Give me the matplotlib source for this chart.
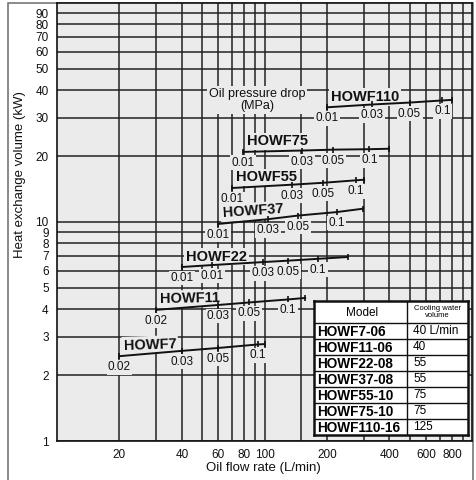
import matplotlib
matplotlib.use('Agg')
import matplotlib.pyplot as plt
from matplotlib.patches import Rectangle

plt.rcParams['font.family'] = ['Liberation Sans', 'DejaVu Sans']

# curve data: oil flow (L/min), heat exchange (kW), pressure drop labels
howf7_flow = [20, 40, 60, 93, 100]
howf7_heat = [2.44, 2.58, 2.66, 2.76, 2.77]
howf7_drop = ['0.02', '0.03', '0.05', '0.1', '']

howf11_flow = [30, 60, 84, 130, 157]
howf11_heat = [3.97, 4.18, 4.29, 4.43, 4.50]
howf11_drop = ['0.02', '0.03', '0.05', '0.1', '']

howf22_flow = [40, 56, 98, 130, 181, 252]
howf22_heat = [6.23, 6.36, 6.56, 6.66, 6.79, 6.92]
howf22_drop = ['0.01', '0.01', '0.03', '0.05', '0.1', '']

howf37_flow = [60, 104, 145, 223, 298]
howf37_heat = [9.8, 10.3, 10.7, 11.1, 11.5]
howf37_drop = ['0.01', '0.03', '0.05', '0.1', '']

howf55_flow = [70, 135, 191, 276, 302]
howf55_heat = [14.3, 14.8, 15.1, 15.5, 15.6]
howf55_drop = ['0.01', '0.03', '0.05', '0.1', '']

howf75_flow = [79, 151, 215, 320, 398]
howf75_heat = [20.9, 21.2, 21.4, 21.5, 21.6]
howf75_drop = ['0.01', '0.03', '0.05', '0.1', '']

howf110_flow = [200, 330, 500, 720, 800]
howf110_heat = [33.4, 34.4, 35.1, 35.9, 36.1]
howf110_drop = ['0.01', '0.03', '0.05', '0.1', '']

curves = [
    ('HOWF7', howf7_flow, howf7_heat, howf7_drop, 2),
    ('HOWF11', howf11_flow, howf11_heat, howf11_drop, 1),
    ('HOWF22', howf22_flow, howf22_heat, howf22_drop, 0),
    ('HOWF37', howf37_flow, howf37_heat, howf37_drop, 4),
    ('HOWF55', howf55_flow, howf55_heat, howf55_drop, 0),
    ('HOWF75', howf75_flow, howf75_heat, howf75_drop, 0),
    ('HOWF110', howf110_flow, howf110_heat, howf110_drop, 0),
]

x_labeled = [20, 40, 60, 80, 100, 200, 400, 600, 800]
x_grid_extra = [30, 50, 70, 90, 150, 300, 500, 700, 900]
y_labeled = [1, 2, 3, 4, 5, 6, 7, 8, 9, 10, 20, 30, 40, 50, 60, 70, 80, 90]

table_models = ['HOWF7-06', 'HOWF11-06', 'HOWF22-08', 'HOWF37-08',
                'HOWF55-10', 'HOWF75-10', 'HOWF110-16']
table_water = ['40 L/min', '40', '55', '55', '75', '75', '125']

BG = '#ebebeb'
GRID = '#222222'
W, H = 476, 480

fig = plt.figure(figsize=(W / 100, H / 100), dpi=100)
ax = fig.add_axes([57 / W, 39 / H, 415 / W, 438 / H])
ax.set_facecolor(BG)
ax.set_xscale('log')
ax.set_yscale('log')
ax.set_xlim(10, 1000)
ax.set_ylim(1, 100)

ax.set_xticks(x_labeled)
ax.set_xticklabels([str(v) for v in x_labeled])
ax.set_xticks(x_grid_extra, minor=True)
ax.set_xticklabels([], minor=True)
ax.set_yticks(y_labeled)
ax.set_yticklabels([str(v) for v in y_labeled])
ax.set_yticks([], minor=True)
ax.tick_params(which='both', length=0, labelsize=8.5, colors='#111')
ax.tick_params(axis='y', pad=6)
ax.tick_params(axis='x', pad=6)
ax.grid(which='both', color=GRID, lw=1.1)
ax.set_axisbelow(True)
for s in ax.spines.values():
    s.set_color('#111')
    s.set_linewidth(1.2)

box = dict(boxstyle='square,pad=0.12', fc=BG, ec='none')

for name, flow, heat, drop, rot in curves:
    ax.plot(flow, heat, color='#111', lw=1.4, zorder=4)
    ax.plot(flow, heat, ls='none', marker='|', ms=5, mew=1.2,
            color='#111', zorder=4)
    for f, h, lab in zip(flow, heat, drop):
        if lab:
            ax.annotate(lab, (f, h), xytext=(0, -11),
                        textcoords='offset pixels', ha='center',
                        va='center', fontsize=8.5, color='#111',
                        bbox=box, zorder=3)
    ax.annotate(name, (flow[0], heat[0]), xytext=(4, 10.5),
                textcoords='offset pixels', ha='left', va='center',
                fontsize=10.5, fontweight='bold', color='#111',
                rotation=rot, rotation_mode='anchor', bbox=box, zorder=3)

fig.text(257 / W, 1 - 100 / H, 'Oil pressure drop\n(MPa)', ha='center',
         va='center', fontsize=9, color='#111', linespacing=1.1,
         bbox=dict(boxstyle='square,pad=0.15', fc=BG, ec='none'))

# model table
tx = fig.add_axes([314 / W, 45 / H, 154 / W, 134 / H])
tx.set_xlim(0, 154)
tx.set_ylim(134, 0)
tx.set_facecolor('white')
tx.set_xticks([])
tx.set_yticks([])
for s in tx.spines.values():
    s.set_linewidth(1.8)
    s.set_color('#111')
tx.axvline(93, color='#111', lw=1)
tx.axhline(22, color='#111', lw=1)
for i in range(1, len(table_models)):
    tx.axhline(22 + 16 * i, color='#111', lw=1)
tx.text(48, 12, 'Model', ha='center', va='center', fontsize=8.5)
tx.text(123, 11, 'Cooling water\nvolume', ha='center', va='center',
        fontsize=5.5, linespacing=0.9)
for i, (m, w) in enumerate(zip(table_models, table_water)):
    yc = 22 + 16 * i + 8.5
    tx.text(3, yc, m, ha='left', va='center', fontsize=9.8,
            fontweight='bold')
    tx.text(99, yc, w, ha='left', va='center', fontsize=8.5)

fig.text(20 / W, 1 - 175 / H, 'Heat exchange volume (kW)', rotation=90,
         ha='center', va='center', fontsize=9.5, color='#111')
fig.text(263 / W, 1 - 468 / H, 'Oil flow rate (L/min)', ha='center',
         va='center', fontsize=9.5, color='#111')

fig.add_artist(Rectangle((8 / W, -0.02), 465 / W, 1.02 - 3 / H,
                         transform=fig.transFigure, fill=False,
                         ec='#777', lw=1.2, zorder=0))

fig.savefig('out.png', dpi=100)
